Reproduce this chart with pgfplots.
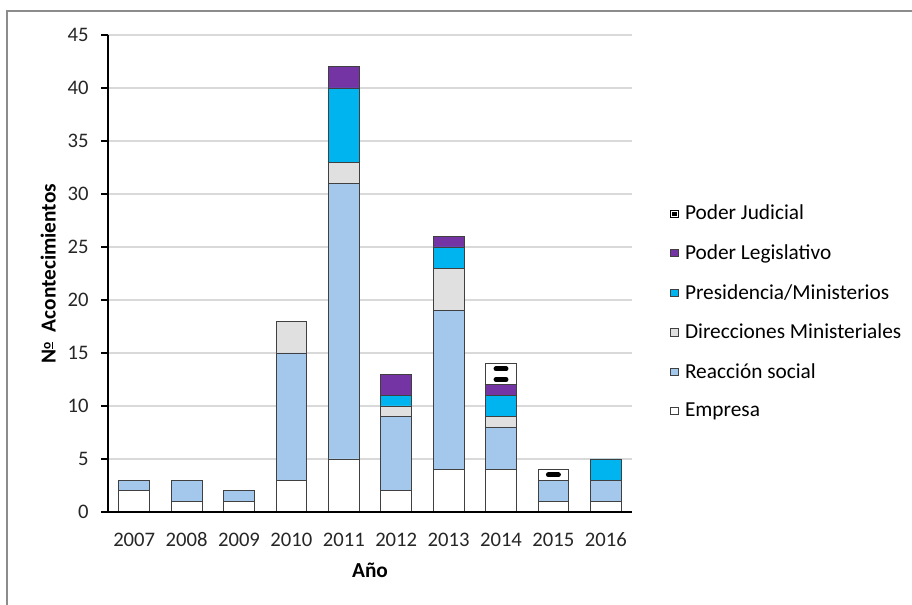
\documentclass[border=0pt]{standalone}
\usepackage{pgfplots}
\pgfplotsset{compat=1.18}
\usepackage{pgfplotstable}
\usepackage{fontspec}
\setmainfont{Carlito}
\definecolor{reaccion}{HTML}{A3C8EC}
\definecolor{direcciones}{HTML}{E0E0E0}
\definecolor{presidencia}{HTML}{00B4F0}
\definecolor{legislativo}{HTML}{7434A4}
\definecolor{gridgray}{HTML}{D9D9D9}
\definecolor{barline}{HTML}{404040}

% one column per series, one row per year (x = 0 is 2007)
\pgfplotstableread{
x empresa reaccion direcciones presidencia legislativo judicial
0 2 1  0 0 0 0
1 1 2  0 0 0 0
2 1 1  0 0 0 0
3 3 12 3 0 0 0
4 5 26 2 7 2 0
5 2 7  1 1 2 0
6 4 15 4 2 1 0
7 4 4  1 2 1 2
8 1 2  0 0 0 1
9 1 2  0 2 0 0
}\datatable

\newcommand{\ordo}{\raisebox{0.5ex}{\fontsize{10}{10}\selectfont\underline{o}}}

\begin{document}
\begin{tikzpicture}
\useasboundingbox (0,0) rectangle (684pt,453.75pt);
\draw[gray!90,line width=0.9pt] (5.25pt,0) -- (5.25pt,445.5pt) -- (684pt,445.5pt);

\pgfplotsset{
  commonax/.style={
    at={(81pt,69.75pt)}, anchor=south west,
    scale only axis, width=393pt, height=357.75pt,
    xmin=-0.5, xmax=9.5, ymin=0, ymax=45,
  },
}

\begin{axis}[
  commonax,
  ybar stacked, bar width=23pt,
  legend image code/.code={
    \draw[#1,draw=barline,line width=0.6pt] (0pt,-2.7pt) rectangle (5.4pt,2.7pt);
  },
  axis x line*=bottom, axis y line*=left,
  x axis line style={draw=none},
  y axis line style={line width=1.6pt,-},
  xtick=data,
  xticklabels={2007,2008,2009,2010,2011,2012,2013,2014,2015,2016},
  xtick style={draw=none},
  ytick={0,5,...,45},
  ytick style={line width=1.6pt,black},
  tick align=outside, major tick length=5pt,
  ymajorgrids, grid style={gridgray,line width=0.9pt},
  /pgf/number format/assume math mode=true,
  tick label style={font=\fontsize{15.5}{18}\selectfont,text=black!85},
  yticklabel style={xshift=-6pt},
  xticklabel style={yshift=-7pt,text height=10pt,text depth=0pt},
  xlabel={\bfseries Año}, ylabel={\bfseries N\ordo\ \ Acontecimientos},
  label style={font=\fontsize{16}{19}\selectfont},
  xlabel style={yshift=-6pt},
  ylabel style={yshift=2pt},
  legend style={at={(1.065,0.655)},anchor=north west,draw=none,fill=none,
    font=\fontsize{16}{19}\selectfont,row sep=13.1pt,
    legend cell align=left,
    /tikz/every odd column/.append style={column sep=3pt}},
  reverse legend,
]
\addplot[fill=white,draw=barline,line width=0.6pt] table[x=x,y=empresa]{\datatable};
\addlegendentry{Empresa}
\addplot[fill=reaccion,draw=barline,line width=0.6pt] table[x=x,y=reaccion]{\datatable};
\addlegendentry{Reacción social}
\addplot[fill=direcciones,draw=barline,line width=0.6pt] table[x=x,y=direcciones]{\datatable};
\addlegendentry{Direcciones Ministeriales}
\addplot[fill=presidencia,draw=barline,line width=0.6pt] table[x=x,y=presidencia]{\datatable};
\addlegendentry{Presidencia/Ministerios}
\addplot[fill=legislativo,draw=barline,line width=0.6pt] table[x=x,y=legislativo]{\datatable};
\addlegendentry{Poder Legislativo}
\addplot[fill=white,draw=barline,line width=0.6pt,
  legend image code/.code={
    \draw[fill=white,draw=black,line width=0.6pt] (0pt,-2.7pt) rectangle (5.4pt,2.7pt);
    \fill[black] (1.5pt,-1.2pt) rectangle (3.9pt,1.2pt);
  }] table[x=x,y=judicial]{\datatable};
\addlegendentry{Poder Judicial}
\end{axis}

% x axis line over the bars, and the dashes inside the Poder Judicial segments
\begin{axis}[commonax, axis x line*=bottom, axis y line=none,
  xtick=\empty, ytick=\empty,
  x axis line style={line width=2.2pt,-}]
\addplot[only marks, mark=-, mark size=3.8pt,
  mark options={line width=3.6pt,line cap=round,black}]
  coordinates {(7,12.5) (7,13.5) (8,3.5)};
\end{axis}
\end{tikzpicture}
\end{document}
